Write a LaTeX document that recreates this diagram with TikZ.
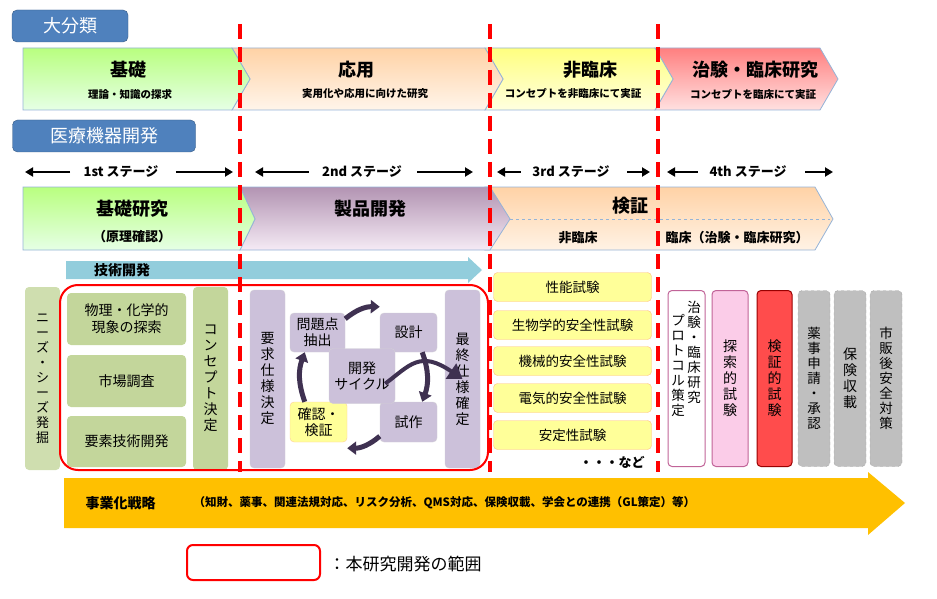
\documentclass[tikz,border=0pt]{standalone}
\usepackage{fontspec}
\setmainfont{Noto Sans CJK JP}
\usetikzlibrary{arrows.meta,shapes.geometric}
\definecolor{hdr}{HTML}{4F81BD}
\definecolor{cyc}{HTML}{3F3151}
\definecolor{pur}{HTML}{CCC1DA}
\definecolor{grn}{HTML}{C3D69B}
\definecolor{ylw}{HTML}{FFFF99}
\definecolor{bizc}{HTML}{FFC000}
\definecolor{techc}{HTML}{92CDDC}
\tikzset{
 hdrbox/.style={draw=hdr!70!black,fill=hdr,rounded corners=5pt,text=white,font=\fontsize{18}{18}\selectfont},
 chev/.style={draw=hdr!60,line width=0.8pt},
 vbox/.style={rounded corners=4pt,align=center,font=\fontsize{14}{16}\selectfont},
 tbox/.style={draw=orange!50,fill=ylw,rounded corners=4pt,minimum width=158pt,minimum height=29pt,font=\fontsize{13.5}{14}\selectfont},
 redline/.style={red,line width=4.5pt,dash pattern=on 15pt off 8pt},
 stg/.style={font=\bfseries\fontsize{13}{13}\selectfont},
 sarr/.style={-{Triangle[length=8pt,width=9pt]},line width=2.4pt},
 cyca/.style={cyc,line width=5pt,-{Triangle[length=9pt,width=13pt]}},
 small/.style={font=\bfseries\fontsize{10.5}{11}\selectfont},
 big/.style={font=\bfseries\fontsize{18}{18}\selectfont}
}
\begin{document}
\begin{tikzpicture}[x=1pt,y=-1pt]
\useasboundingbox (0,0) rectangle (937,599);
% headers
\node[hdrbox,minimum width=116pt,minimum height=32pt] (h1) at (70,26) {大分類};
\node[hdrbox,minimum width=183pt,minimum height=32pt] (h2) at (104,136) {医療機器開発};
% top chevrons
\path[chev,top color=red!50,bottom color=red!12] (655,48)--(820,48)--(838,79)--(820,110)--(655,110)--(673,79)--cycle;
\path[chev,top color=yellow!50,bottom color=yellow!12] (485,48)--(655,48)--(673,79)--(655,110)--(485,110)--(503,79)--cycle;
\path[chev,top color=orange!35,bottom color=orange!8] (232,48)--(485,48)--(503,79)--(485,110)--(232,110)--(250,79)--cycle;
\path[chev,top color=green!40!lime!50,bottom color=green!10] (23,48)--(232,48)--(250,79)--(232,110)--(23,110)--cycle;
\node[big] (t1) at (128,70) {基礎};
\node[small] (t1s) at (130,94) {理論・知識の探求};
\node[big] (t2) at (356,70) {応用};
\node[small] (t2s) at (365,94) {実用化や応用に向けた研究};
\node[big] (t3) at (590,70) {非臨床};
\node[small] (t3s) at (573,94) {コンセプトを非臨床にて実証};
\node[big] (t4) at (755,70) {治験・臨床研究};
\node[small] (t4s) at (753,94) {コンセプトを臨床にて実証};
% stage arrows
\node[stg] (s1) at (121,172) {1st ステージ};
\node[stg] (s2) at (362,172) {2nd ステージ};
\node[stg] (s3) at (571,172) {3rd ステージ};
\node[stg] (s4) at (748,172) {4th ステージ};
\coordinate (s1a) at (25,172); \coordinate (s1b) at (233,172);
\coordinate (s2a) at (255,172); \coordinate (s2b) at (473,172);
\coordinate (s3a) at (497,172); \coordinate (s3b) at (650,172);
\coordinate (s4a) at (667,172); \coordinate (s4b) at (833,172);
\draw[sarr] (s1.west)++(-10,0) -- (s1a); \draw[sarr] (s1.east)++(14,0) -- (s1b);
\draw[sarr] (s2.west)++(-10,0) -- (s2a); \draw[sarr] (s2.east)++(12,0) -- (s2b);
\draw[sarr] (s3.west)++(-8,0) -- (s3a); \draw[sarr] (s3.east)++(14,0) -- (s3b);
\draw[sarr] (s4.west)++(-8,0) -- (s4a); \draw[sarr] (s4.east)++(15,0) -- (s4b);
% second chevrons
\path[chev,top color=orange!35,bottom color=orange!10] (485,187)--(815,187)--(833,219)--(815,250)--(485,250)--(503,219)--cycle;
\draw[hdr!60,dashed] (510,219)--(830,219);
\path[chev,top color=violet!40!gray!60,bottom color=violet!8] (240,187)--(490,187)--(510,219)--(490,250)--(240,250)--(255,219)--cycle;
\path[chev,top color=green!40!lime!50,bottom color=green!10] (23,187)--(240,187)--(255,219)--(240,250)--(23,250)--cycle;
\node[big] (b1) at (132,209) {基礎研究};
\node[stg] (b1s) at (132,237) {（原理確認）};
\node[big] (b2) at (370,209) {製品開発};
\node[big] (b3) at (630,206) {検証};
\node[stg] (b3a) at (578,238) {非臨床};
\node[stg] (b3b) at (737,238) {臨床（治験・臨床研究）};
% tech dev arrow
\path[fill=techc] (66,261)--(468,261)--(468,257)--(482,270)--(468,283)--(468,279)--(66,279)--cycle;
\node[font=\bfseries\fontsize{14}{14}\selectfont] (td) at (122,270) {技術開発};
% business arrow
\path[fill=bizc] (64,478)--(868,478)--(868,472)--(905,503)--(868,535)--(868,528)--(64,528)--cycle;
\node[anchor=west,font=\bfseries\fontsize{14}{14}\selectfont] (bz) at (82,503) {事業化戦略};
\node[anchor=west,font=\bfseries\fontsize{11.5}{12}\selectfont] (bz2) at (190,503) {（知財、薬事、関連法規対応、リスク分析、QMS対応、保険収載、学会との連携（GL策定）等）};
% left column
\node[vbox,fill=grn!80,minimum width=35pt,minimum height=183pt,font=\fontsize{13}{15}\selectfont] (ns) at (42.5,378.5) {ニ\\ー\\ズ\\・\\シ\\ー\\ズ\\発\\掘};
\node[vbox,fill=grn,minimum width=119pt,minimum height=52pt,font=\fontsize{14}{17}\selectfont] (g1) at (126.5,319) {物理・化学的\\現象の探索};
\node[vbox,fill=grn,minimum width=119pt,minimum height=52pt] (g2) at (126.5,381) {市場調査};
\node[vbox,fill=grn,minimum width=119pt,minimum height=51pt] (g3) at (126.5,441.5) {要素技術開発};
\node[vbox,fill=grn,minimum width=35pt,minimum height=183pt] (cd) at (210.5,378.5) {コ\\ン\\セ\\プ\\ト\\決\\定};
% purple column
\node[vbox,draw=pur!70!black!40,fill=pur,minimum width=35pt,minimum height=178pt] (yk) at (267.5,379) {要\\求\\仕\\様\\決\\定};
\node[vbox,draw=pur!70!black!40,fill=pur,minimum width=35pt,minimum height=178pt] (sk) at (462.5,379) {最\\終\\仕\\様\\確\\定};
\node[vbox,draw=pur!70!black!40,fill=pur,minimum width=55pt,minimum height=39pt,inner sep=1pt] (mo) at (317.5,332.5) {問題点\\抽出};
\node[vbox,draw=pur!70!black!40,fill=pur,minimum width=57pt,minimum height=39pt] (sj) at (408.5,332.5) {設計};
\node[vbox,draw=orange!40,fill=ylw,minimum width=57pt,minimum height=40pt,inner sep=1pt] (kn) at (318.5,422) {確認・\\検証};
\node[vbox,draw=pur!70!black!40,fill=pur,minimum width=57pt,minimum height=40pt] (sa) at (408.5,422) {試作};
\node[vbox,draw=pur!70!black!40,fill=pur,minimum width=66pt,minimum height=55pt,inner sep=1pt] (kc) at (362,376) {開発\\サイクル};
\draw[cyca] (mo.north east)++(0,6) to[bend left=20] ([yshift=6pt]sj.north west);
\draw[cyca] (sj.south east)++(-15,0) to[bend left=20] ([xshift=-15pt]sa.north east);
\draw[cyca] (sa.south west)++(0,-6) to[bend left=20] ([yshift=-6pt]kn.south east);
\draw[cyca] (kn.north west)++(15,0) to[bend left=20] ([xshift=15pt]mo.south west);
\draw[cyc,line width=4pt,-{Triangle[length=14pt,width=18pt]}] (kc.south east)++(-10,-20) .. controls (410,365) and (420,350) .. (sk.center);
% scope rect
\draw[red,line width=2pt,rounded corners=18pt] (60,285) rectangle (488,470);
% tests
\node[tbox] (p1) at (572.5,287) {性能試験};
\node[tbox] (p2) at (572.5,325) {生物学的安全性試験};
\node[tbox] (p3) at (572.5,361) {機械的安全性試験};
\node[tbox] (p4) at (572.5,398) {電気的安全性試験};
\node[tbox] (p5) at (572.5,435) {安定性試験};
\node[stg] (nd) at (612,462) {・・・など};
% right boxes
\node[vbox,draw=magenta!50!gray,line width=1pt,fill=white,minimum width=37pt,minimum height=176pt] (c1) at (686.5,378.5) {};
\node[align=center,font=\fontsize{13.5}{15}\selectfont] (c1a) at (694,352) {治\\験\\・\\臨\\床\\研\\究};
\node[align=center,font=\fontsize{13.5}{15}\selectfont] (c1b) at (678,365) {プ\\ロ\\ト\\コ\\ル\\策\\定};
\node[vbox,draw=magenta!50!gray,line width=1pt,fill=magenta!20,minimum width=36pt,minimum height=176pt] (c2) at (730,378.5) {探\\索\\的\\試\\験};
\node[vbox,draw=red!60!black,line width=1pt,fill=red!70!white,minimum width=35pt,minimum height=176pt] (c3) at (774.5,378.5) {検\\証\\的\\試\\験};
\node[vbox,draw=gray!70,dashed,fill=gray!50,minimum width=32pt,minimum height=176pt,font=\fontsize{13.5}{15}\selectfont] (c4) at (814,378.5) {薬\\事\\申\\請\\・\\承\\認};
\node[vbox,draw=gray!70,dashed,fill=gray!50,minimum width=32pt,minimum height=176pt] (c5) at (850,378.5) {保\\険\\収\\載};
\node[vbox,draw=gray!70,dashed,fill=gray!50,minimum width=32pt,minimum height=176pt,font=\fontsize{13.5}{15}\selectfont] (c6) at (886,378.5) {市\\販\\後\\安\\全\\対\\策};
% red lines
\coordinate (r1t) at (240,24); \coordinate (r1b) at (240,472);
\coordinate (r2t) at (490,24); \coordinate (r2b) at (490,472);
\coordinate (r3t) at (658,24); \coordinate (r3b) at (658,472);
\draw[redline] (r1t)--(r1b); \draw[redline] (r2t)--(r2b); \draw[redline] (r3t)--(r3b);
% legend
\draw[red,line width=2pt,rounded corners=6pt] (187,545) rectangle (320,580);
\node[anchor=west,font=\fontsize{17}{17}\selectfont] (lg) at (325,564) {：本研究開発の範囲};
\end{tikzpicture}
\end{document}
